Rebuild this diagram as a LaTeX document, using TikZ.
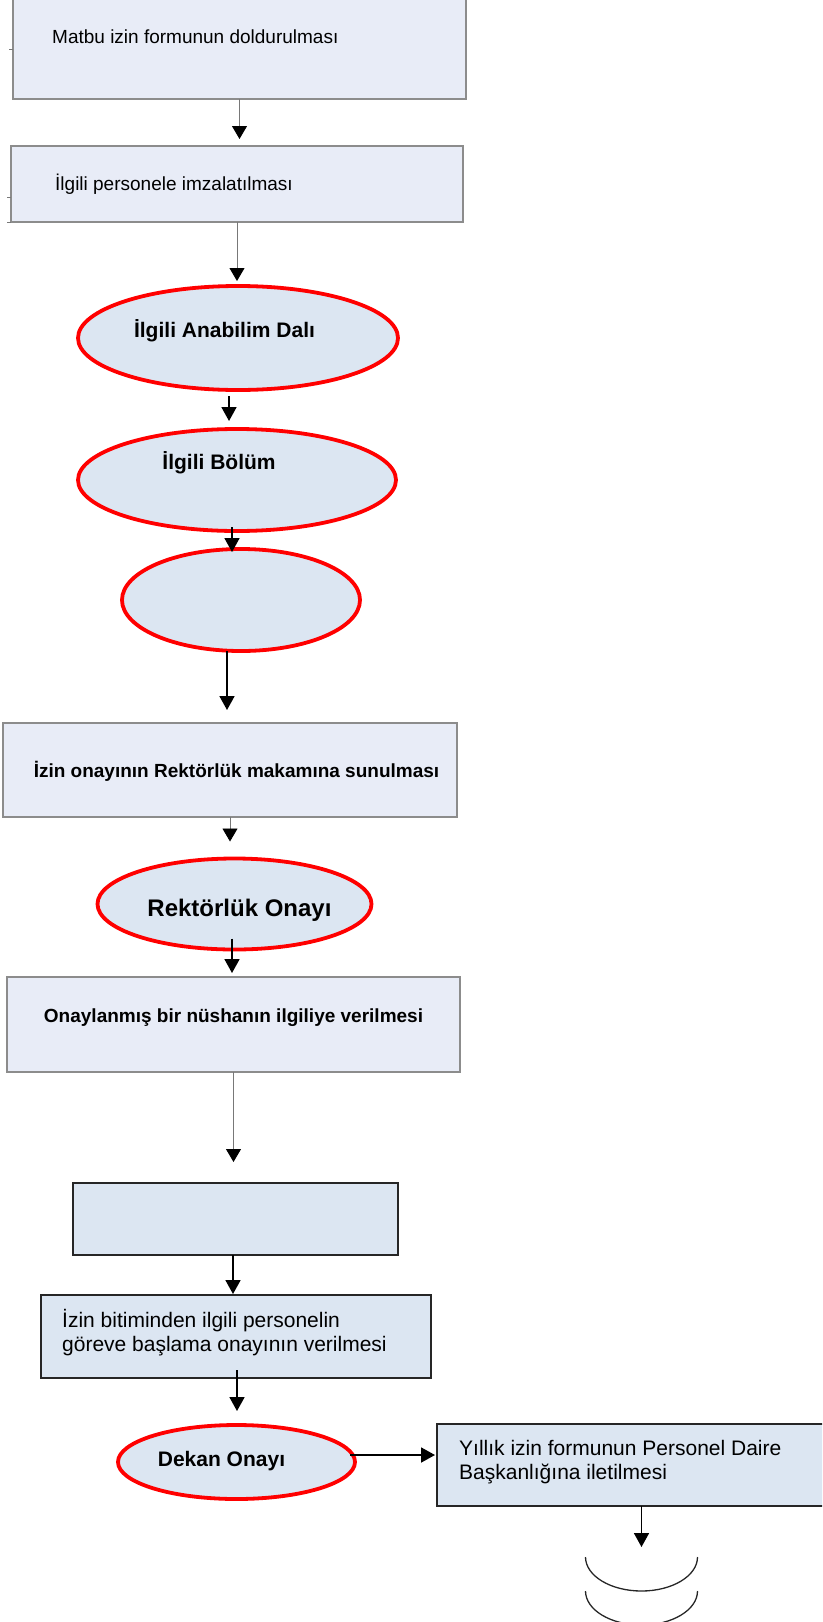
\documentclass[tikz,border=0pt]{standalone}
\usepackage{fontspec}
\setmainfont{Liberation Sans}
\usetikzlibrary{arrows.meta,calc,shapes.geometric}
\definecolor{boxAfill}{RGB}{232,236,247}
\definecolor{boxAline}{RGB}{140,140,140}
\definecolor{boxBfill}{RGB}{220,230,242}
\definecolor{boxBline}{RGB}{38,38,38}
\definecolor{ovalred}{RGB}{255,0,0}
\definecolor{thinline}{RGB}{120,120,120}
\newcommand\mysizeA{\fontsize{19}{23}\selectfont}
\newcommand\mysizeB{\fontsize{21}{24.5}\selectfont}
\newcommand\mysizeC{\fontsize{24}{28}\selectfont}
\begin{document}
\begin{tikzpicture}[x=1pt,y=-1pt,
  boxa/.style={rectangle, draw=boxAline, fill=boxAfill, line width=1.2pt, inner sep=0pt, outer sep=0pt},
  boxb/.style={rectangle, draw=boxBline, fill=boxBfill, line width=1.5pt, inner sep=0pt, outer sep=0pt},
  oval/.style={ellipse, draw=ovalred, fill=boxBfill, line width=3.8pt, inner sep=0pt, outer sep=0pt},
  txt/.style={inner sep=0pt, text=black},
  garr/.style={draw=thinline, line width=0.9pt, -{Triangle[length=13pt,width=15pt,color=black]}},
  barr/.style={draw=black, line width=1.8pt, -{Triangle[length=14pt,width=15pt]}},
  stub/.style={draw=thinline, line width=0.8pt},
  arcline/.style={draw=black!85, line width=1.3pt}
]
\useasboundingbox (0,0) rectangle (822,1622);
\clip (0,0) rectangle (822,1622);

% boxes
\node[boxa, minimum width=453pt, minimum height=108pt] (b1) at (239.5,45) {};
\node[txt, anchor=west, font=\mysizeA] (t1) at (52,36.5) {Matbu izin formunun doldurulması};

\node[boxa, minimum width=452pt, minimum height=76pt] (b2) at (237,184) {};
\node[txt, anchor=west, font=\mysizeA] (t2) at (55,184) {İlgili personele imzalatılması};

\node[oval, minimum width=320pt, minimum height=104pt] (e1) at (238,338) {};
\node[txt, font=\mysizeB\bfseries] (te1) at (224.5,331) {İlgili Anabilim Dalı};

\node[oval, minimum width=318pt, minimum height=102pt] (e2) at (237,480) {};
\node[txt, font=\mysizeB\bfseries] (te2) at (219,463) {İlgili Bölüm};

\node[oval, minimum width=238pt, minimum height=102pt] (e3) at (241,600) {};

\node[boxa, minimum width=454pt, minimum height=94pt] (b3) at (230,770) {};
\node[txt, font=\mysizeA\bfseries] (t3) at (236.5,771.5) {İzin onayının Rektörlük makamına sunulması};

\node[oval, minimum width=274pt, minimum height=91pt] (e4) at (234.5,904) {};
\node[txt, font=\mysizeC\bfseries] (te4) at (239.5,910) {Rektörlük Onayı};

\node[boxa, minimum width=453pt, minimum height=95pt] (b4) at (233.5,1024.5) {};
\node[txt, font=\mysizeA\bfseries] (t4) at (233.5,1017.5) {Onaylanmış bir nüshanın ilgiliye verilmesi};

\node[boxb, minimum width=325pt, minimum height=72pt] (b5) at (235.5,1219) {};

\node[boxb, minimum width=390pt, minimum height=83pt] (b6) at (236,1336.5) {};
\node[txt, anchor=west, align=left, font=\mysizeB] (t6) at (62,1332.5) {İzin bitiminden ilgili personelin\\göreve başlama onayının verilmesi};

\node[oval, minimum width=237pt, minimum height=74pt] (e5) at (236.5,1462) {};
\node[txt, font=\mysizeB\bfseries] (te5) at (221.5,1461.5) {Dekan Onayı};

\node[boxb, minimum width=393pt, minimum height=82pt] (b7) at (633.5,1465) {};
\node[txt, anchor=west, align=left, font=\mysizeB] (t7) at (459,1462) {Yıllık izin formunun Personel Daire\\Başkanlığına iletilmesi};

% small stubs at the left of the top boxes
\draw[stub] (9,49) -- (b1.west |- 0,49);
\draw[stub] (7,197) -- (b2.west |- 0,197);
\draw[stub] (7,222) -- (b2.south west);

% final arcs
\coordinate (arcc) at (641.5,1557);
\coordinate (arcd) at (641.5,1591);
\draw[arcline] ($(arcc)+(-56,0)$) arc[start angle=180, end angle=0, x radius=56, y radius=34];
\draw[arcline] ($(arcd)+(-56,0)$) arc[start angle=180, end angle=0, x radius=56, y radius=34];

% connectors
\draw[garr, shorten >=7pt] (b1.south) -- (b1.south |- b2.north);
\draw[garr, shorten >=5pt] (b2.south) -- (b2.south |- e1.north);
\draw[barr, shorten <=6pt, shorten >=8pt] ([xshift=-9pt]e1.south) -- ([xshift=-9pt]e1.south |- e2.north);
\draw[barr, shorten <=-4pt, shorten >=-3pt] ([xshift=-5pt]e2.south) -- ([xshift=-5pt]e2.south |- e3.north);
\draw[barr, shorten >=13pt] ([xshift=-14pt]e3.south) -- ([xshift=-14pt]e3.south |- b3.north);
\draw[garr, shorten >=17pt] (b3.south) -- (b3.south |- e4.north);
\draw[barr, shorten <=-11pt, shorten >=4pt] ([xshift=-2.5pt]e4.south) -- ([xshift=-2.5pt]e4.south |- b4.north);
\draw[garr, shorten >=21pt] (b4.south) -- (b4.south |- b5.north);
\draw[barr, shorten >=1pt] ([xshift=-2.5pt]b5.south) -- ([xshift=-2.5pt]b5.south |- b6.north);
\draw[barr, shorten <=-8pt, shorten >=14pt] ([xshift=1pt]b6.south) -- ([xshift=1pt]b6.south |- e5.north);
\draw[barr, shorten <=-5pt, shorten >=2pt] ([yshift=7pt]e5.east) -- ([yshift=7pt]e5.east -| b7.west);
\draw[barr, shorten >=10pt] (arcc |- b7.south) -- (arcc);
\end{tikzpicture}
\end{document}
